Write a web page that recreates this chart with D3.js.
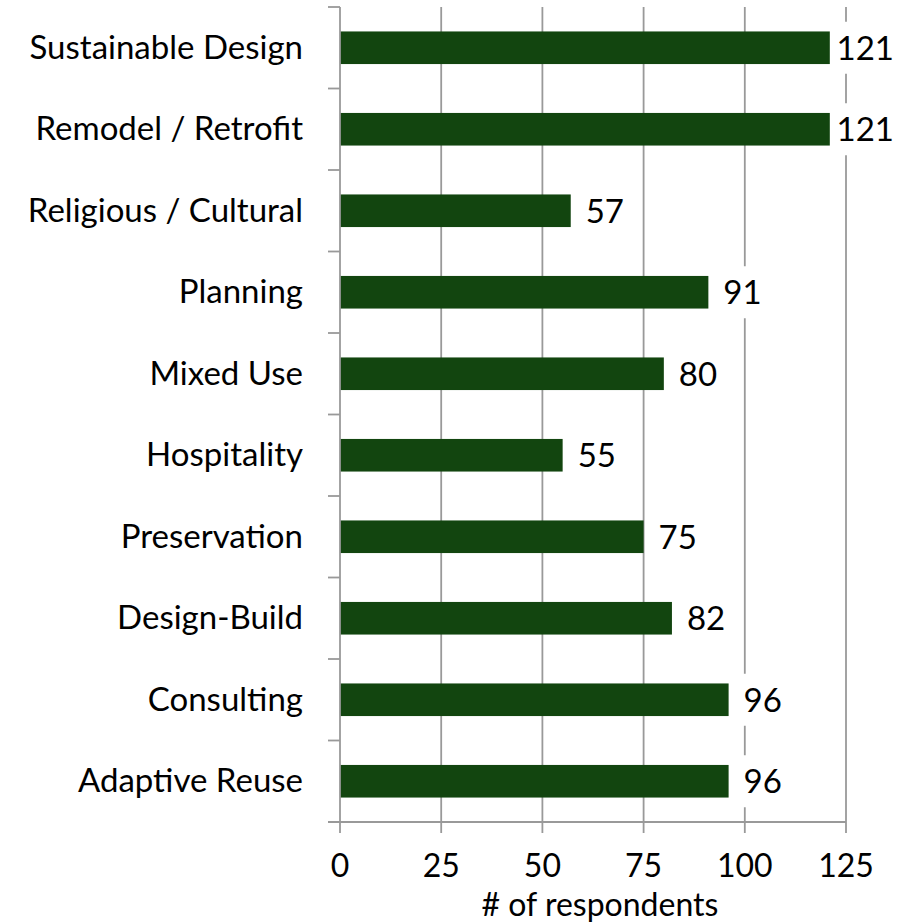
<!DOCTYPE html>
<html>
<head>
<meta charset="utf-8">
<script src="https://cdn.jsdelivr.net/npm/d3@7"></script>
<style>
  html, body { margin: 0; padding: 0; background: #fff; }
  svg text { font-family: Lato, "Open Sans", sans-serif; fill: #000; }
</style>
</head>
<body>
<svg id="chart" width="907" height="923"></svg>
<script>
// Project types, top to bottom, and respondent counts
const categories = [
  "Sustainable Design", "Remodel / Retrofit", "Religious / Cultural", "Planning",
  "Mixed Use", "Hospitality", "Preservation", "Design-Build", "Consulting", "Adaptive Reuse"
];
const respondents = [121, 121, 57, 91, 80, 55, 75, 82, 96, 96];
const xTicks = [0, 25, 50, 75, 100, 125];
const xTitle = "# of respondents";

(function () {
  const svg = d3.select("#chart");
  const plotLeft = 340, plotRight = 846, plotTop = 7, plotBottom = 822;
  const chartRight = 894;
  const fontSize = 33;
  const axisFontSize = 32;

  const x = d3.scaleLinear().domain([0, 125]).range([plotLeft, plotRight]);
  const y = d3.scaleBand().domain(categories).range([plotTop, plotBottom]).paddingInner(0.6).paddingOuter(0.3);
  const yBand = d3.scaleBand().domain(categories).range([plotTop, plotBottom]);

  const gridColor = "#999";

  // Vertical gridlines
  svg.append("g").selectAll("line").data(xTicks.slice(1)).join("line")
    .attr("x1", d => x(d)).attr("x2", d => x(d))
    .attr("y1", plotTop).attr("y2", plotBottom)
    .attr("stroke", gridColor).attr("stroke-width", 1.8);

  // Bars
  svg.append("g").selectAll("rect").data(categories).join("rect")
    .attr("x", x(0))
    .attr("y", d => y(d))
    .attr("width", (d, i) => x(respondents[i]) - x(0))
    .attr("height", y.bandwidth())
    .attr("fill", "#12450f");

  // Value labels at the bar ends, on a white backing, kept inside the chart
  const lab = svg.append("g").selectAll("g").data(categories).join("g");
  lab.append("text")
    .attr("font-size", fontSize)
    .text((d, i) => respondents[i]);
  lab.each(function (d, i) {
    const g = d3.select(this);
    const t = g.select("text");
    const w = t.node().getComputedTextLength();
    const cy = y(d) + y.bandwidth() / 2;
    const tx = Math.min(x(respondents[i]) + 15, chartRight - w);
    t.attr("x", tx).attr("y", cy + 12);
    g.insert("rect", "text")
      .attr("x", tx - 4).attr("y", cy - 26)
      .attr("width", w + 8).attr("height", 52)
      .attr("fill", "#fff");
  });

  // Category axis
  const yAxis = svg.append("g").attr("transform", `translate(${plotLeft},0)`);
  yAxis.append("line").attr("x1", 0).attr("x2", 0).attr("y1", plotTop).attr("y2", plotBottom)
    .attr("stroke", gridColor).attr("stroke-width", 1.8);
  yAxis.selectAll("line.tick").data(d3.range(categories.length + 1)).join("line")
    .attr("class", "tick")
    .attr("x1", -12).attr("x2", 0)
    .attr("y1", i => plotTop + i * yBand.step()).attr("y2", i => plotTop + i * yBand.step())
    .attr("stroke", gridColor).attr("stroke-width", 1.8);
  yAxis.selectAll("text").data(categories).join("text")
    .attr("x", -37)
    .attr("y", d => yBand(d) + yBand.bandwidth() / 2 + 11)
    .attr("text-anchor", "end")
    .attr("font-size", fontSize)
    .text(d => d);

  // Value axis
  const xAxis = svg.append("g").attr("transform", `translate(0,${plotBottom})`);
  xAxis.append("line").attr("x1", plotLeft - 12).attr("x2", plotRight).attr("y1", 0).attr("y2", 0)
    .attr("stroke", gridColor).attr("stroke-width", 1.8);
  xAxis.selectAll("line.tick").data(xTicks).join("line")
    .attr("class", "tick")
    .attr("x1", d => x(d)).attr("x2", d => x(d))
    .attr("y1", 0).attr("y2", 11)
    .attr("stroke", gridColor).attr("stroke-width", 1.8);
  xAxis.selectAll("text").data(xTicks).join("text")
    .attr("x", d => x(d))
    .attr("y", 877 - plotBottom)
    .attr("text-anchor", "middle")
    .attr("font-size", axisFontSize)
    .text(d => d);

  svg.append("text")
    .attr("x", 600).attr("y", 916)
    .attr("text-anchor", "middle")
    .attr("font-size", axisFontSize)
    .text(xTitle);
})();
</script>
</body>
</html>
